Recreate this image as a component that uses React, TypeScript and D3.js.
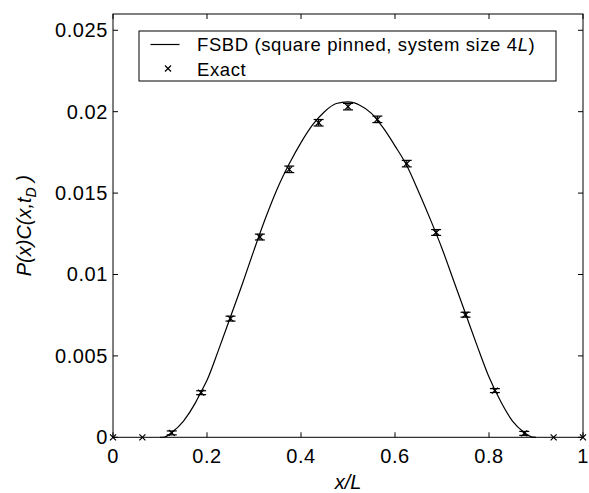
import React from "react";
import * as d3 from "d3";

const exactX = [0, 0.0625, 0.125, 0.1875, 0.25, 0.3125, 0.375, 0.4375, 0.5, 0.5625, 0.625, 0.6875, 0.75, 0.8125, 0.875, 0.9375, 1];
const exactY = [0, 0, 0.00027, 0.00274, 0.00729, 0.0123, 0.01646, 0.01932, 0.02031, 0.01953, 0.01681, 0.01258, 0.00753, 0.00287, 0.00024, 0, 0];
const exactErr = [0, 0, 0.00012, 0.00012, 0.00015, 0.00018, 0.0002, 0.0002, 0.0002, 0.0002, 0.0002, 0.00018, 0.00015, 0.00012, 0.00012, 0, 0];

const fsbdX = [0.1, 0.11, 0.125, 0.15, 0.175, 0.1875, 0.2, 0.225, 0.25, 0.275, 0.3, 0.325, 0.35, 0.375, 0.4, 0.425, 0.45, 0.475, 0.5, 0.525, 0.55, 0.575, 0.6, 0.625, 0.65, 0.675, 0.7, 0.725, 0.75, 0.775, 0.8, 0.825, 0.85, 0.875, 0.89, 0.9];
const fsbdY = [0, 0.00002, 0.0003, 0.001, 0.0021, 0.0028, 0.0035, 0.0054, 0.0074, 0.0094, 0.0115, 0.0135, 0.0153, 0.0168, 0.0181, 0.0192, 0.02, 0.0205, 0.0206, 0.0204, 0.0199, 0.019, 0.0179, 0.0167, 0.0151, 0.0134, 0.0116, 0.0096, 0.0076, 0.0056, 0.0037, 0.0022, 0.001, 0.0003, 0.00003, 0];

const xTicks = [0, 0.2, 0.4, 0.6, 0.8, 1];
const xTickLabels = ["0", "0.2", "0.4", "0.6", "0.8", "1"];
const yTicks = [0, 0.005, 0.01, 0.015, 0.02, 0.025];
const yTickLabels = ["0", "0.005", "0.01", "0.015", "0.02", "0.025"];

const W = 589, H = 493;
const left = 113, right = 583, top = 14, bottom = 437.3;
const font = "'Liberation Sans', Arial, Helvetica, sans-serif";

export default function App() {
  const x = d3.scaleLinear().domain([0, 1]).range([left, right]);
  const y = d3.scaleLinear().domain([0, 0.026]).range([bottom, top]);
  const line = d3.line<number>()
    .x((_, i) => x(fsbdX[i]))
    .y((d) => y(d))
    .curve(d3.curveMonotoneX);
  const tl = 5;
  const ms = 3;
  const cap = 5;
  return (
    <svg width={W} height={H} style={{ position: "absolute", left: 0, top: 0, background: "#fff" }}>
      <rect x={0} y={0} width={W} height={H} fill="#fff" />
      {xTicks.map((t, i) => (
        <g key={"xt" + i}>
          <line x1={x(t)} x2={x(t)} y1={bottom} y2={bottom - tl} stroke="#000" strokeWidth={1} />
          <line x1={x(t)} x2={x(t)} y1={top} y2={top + tl} stroke="#000" strokeWidth={1} />
          <text x={x(t)} y={463} textAnchor="middle" fontFamily={font} fontSize={20} letterSpacing={0.6}>{xTickLabels[i]}</text>
        </g>
      ))}
      {yTicks.map((t, i) => (
        <g key={"yt" + i}>
          <line x1={left} x2={left + tl} y1={y(t)} y2={y(t)} stroke="#000" strokeWidth={1} />
          <line x1={right} x2={right - tl} y1={y(t)} y2={y(t)} stroke="#000" strokeWidth={1} />
          <text x={108} y={y(t) + 7} textAnchor="end" fontFamily={font} fontSize={20} letterSpacing={0.6}>{yTickLabels[i]}</text>
        </g>
      ))}
      <path d={line(fsbdY) || ""} fill="none" stroke="#000" strokeWidth={1.2} />
      {exactX.map((xv, i) => {
        const cx = x(xv), cy = y(exactY[i]);
        const e = exactErr[i];
        return (
          <g key={"p" + i} stroke="#000" strokeWidth={1.2}>
            <line x1={cx - ms} x2={cx + ms} y1={cy - ms} y2={cy + ms} />
            <line x1={cx - ms} x2={cx + ms} y1={cy + ms} y2={cy - ms} />
            {e > 0 && (
              <>
                <line x1={cx} x2={cx} y1={y(exactY[i] - e)} y2={y(exactY[i] + e)} />
                <line x1={cx - cap} x2={cx + cap} y1={y(exactY[i] - e)} y2={y(exactY[i] - e)} />
                <line x1={cx - cap} x2={cx + cap} y1={y(exactY[i] + e)} y2={y(exactY[i] + e)} />
              </>
            )}
          </g>
        );
      })}
      <rect x={left} y={top} width={right - left} height={bottom - top} fill="none" stroke="#000" strokeWidth={1} />
      <rect x={139} y={31} width={417} height={50} fill="#fff" stroke="#000" strokeWidth={1} />
      <line x1={150.5} x2={179.5} y1={44.5} y2={44.5} stroke="#000" strokeWidth={1.2} />
      <g stroke="#000" strokeWidth={1.2}>
        <line x1={168 - ms} x2={168 + ms} y1={68.5 - ms} y2={68.5 + ms} />
        <line x1={168 - ms} x2={168 + ms} y1={68.5 + ms} y2={68.5 - ms} />
      </g>
      <text x={197} y={50.7} fontFamily={font} fontSize={18.5} letterSpacing={0.6}>
        FSBD (square pinned, system size 4<tspan fontStyle="italic">L</tspan>)
      </text>
      <text x={197} y={75.7} fontFamily={font} fontSize={18.5} letterSpacing={0.6}>Exact</text>
      <text x={348} y={489} textAnchor="middle" fontFamily={font} fontSize={20} fontStyle="italic">x/L</text>
      <text transform={`translate(31,${(top + bottom) / 2}) rotate(-90)`} textAnchor="middle" fontFamily={font} fontSize={20} fontStyle="italic">
        P(x)C(x,t<tspan fontSize={14} dy={5}>D</tspan><tspan dy={-5}> )</tspan>
      </text>
    </svg>
  );
}
